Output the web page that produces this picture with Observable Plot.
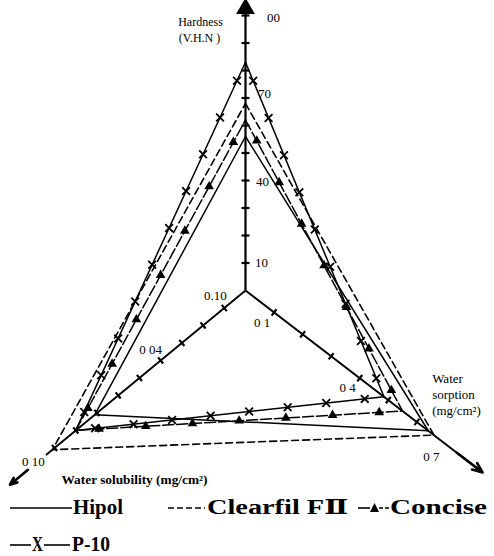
<!DOCTYPE html>
<html><head><meta charset="utf-8">
<script src="https://cdn.jsdelivr.net/npm/d3@7"></script>
<script src="https://cdn.jsdelivr.net/npm/@observablehq/plot@0.6"></script>
<style>
html,body{margin:0;padding:0;background:#fff;}
svg{display:block}
#legend text{font-family:'Liberation Serif','DejaVu Serif',serif;font-weight:bold;font-size:20px;fill:#000}
</style></head><body>
<div id="chart"></div>
<svg id="legend" width="494" height="61">
  <line x1="10" y1="13" x2="72" y2="13" stroke="#000" stroke-width="1.6"/>
  <text x="73" y="19" textLength="50" lengthAdjust="spacingAndGlyphs">Hipol</text>
  <line x1="168" y1="13" x2="205" y2="13" stroke="#000" stroke-width="1.6" stroke-dasharray="6,3"/>
  <text x="207" y="19" textLength="141" lengthAdjust="spacingAndGlyphs">Clearfil FⅡ</text>
  <line x1="358" y1="13" x2="370" y2="13" stroke="#000" stroke-width="1.6"/>
  <path d="M370,17 L374.5,8 L379,17 Z" fill="#000"/>
  <line x1="379" y1="13" x2="389" y2="13" stroke="#000" stroke-width="1.6" stroke-dasharray="4,2"/>
  <text x="390" y="19" textLength="97" lengthAdjust="spacingAndGlyphs">Concise</text>
  <line x1="10" y1="50" x2="31" y2="50" stroke="#000" stroke-width="1.6"/>
  <text x="32" y="56" font-size="16" textLength="11" lengthAdjust="spacingAndGlyphs">X</text>
  <line x1="44" y1="50" x2="70" y2="50" stroke="#000" stroke-width="1.6"/>
  <text x="72" y="56" textLength="38" lengthAdjust="spacingAndGlyphs">P-10</text>
</svg>
<script>
// ---- data ----
const materials = ["Hipol", "Clearfil FⅡ", "Concise", "P-10"];
const hardness = [56, 68, 62, 83];               // V.H.N
const solubility = [0.071, 0.091, 0.080, 0.080]; // mg/cm²
const sorption = [0.64, 0.66, 0.55, 0.485];      // mg/cm²

const hardnessTicks = [10, 20, 30, 40, 50, 60, 70, 80, 90, 100];
const hardnessLabelValues = [10, 40, 70, 100];
const hardnessLabelTexts = ["10", "40", "70", "00"];
const solubilityTicks = [0.01, 0.02, 0.03, 0.04, 0.05, 0.06, 0.07, 0.08, 0.09];
const solubilityLabelValues = [0.01, 0.04, 0.10];
const solubilityLabelTexts = ["0.10", "0 04", "0 10"];
const sorptionTicks = [0.1, 0.2, 0.3, 0.4, 0.5, 0.6];
const sorptionLabelValues = [0.1, 0.4, 0.7];
const sorptionLabelTexts = ["0 1", "0 4", "0 7"];

// ---- layout ----
const W = 494, H = 495, CX = 245, CY = 290, R = 275;
const deg = Math.PI / 180;
const AX = {
  hardness:   {angle: 90,    scale: d3.scaleLinear([0, 100], [0, 1])},
  solubility: {angle: 219.5, scale: d3.scaleLinear([0, 0.1], [0, 1])},
  sorption:   {angle: -37.5, scale: d3.scaleLinear([0, 0.7], [0, 252 / 275])}
};
function project(axis, v, perpPx = 0, dxPx = 0, dyPx = 0) {
  const a = AX[axis].angle * deg, r = AX[axis].scale(v), p = perpPx / R;
  const c = Math.abs(Math.cos(a)) < 1e-9 ? 0 : Math.cos(a);
  const s = Math.abs(Math.sin(a)) < 1e-9 ? 0 : Math.sin(a);
  return {x: r * c - p * s + dxPx / R,
          y: r * s + p * c - dyPx / R};
}
const px = (x, y) => ({x: (x - CX) / R, y: (CY - y) / R});

const styles = [
  {dash: null, width: 1.5},
  {dash: "7,4", width: 1.6},
  {dash: "11,3", width: 1.5},
  {dash: null, width: 1.5}
];

function polygon(i) {
  return [project("hardness", hardness[i]), project("sorption", sorption[i]),
          project("solubility", solubility[i]), project("hardness", hardness[i])];
}
function edgeMarkers(i, stepPx) {
  const v = polygon(i), out = [];
  for (let e = 0; e < 3; e++) {
    const p = v[e], q = v[e + 1];
    const len = Math.hypot(q.x - p.x, q.y - p.y) * R;
    const n = Math.max(1, Math.round(len / stepPx));
    for (let k = 0; k < n; k++) {
      const t = (k + 0.5) / n;
      out.push({x: p.x + (q.x - p.x) * t, y: p.y + (q.y - p.y) * t});
    }
  }
  return out;
}

function tickLinks(axis, values, half) {
  return values.map(v => {
    const a = project(axis, v, -half), b = project(axis, v, half);
    return {x1: a.x, y1: a.y, x2: b.x, y2: b.y};
  });
}
const seg = (a, b) => ({x1: a.x, y1: a.y, x2: b.x, y2: b.y});
const axisLines = [
  seg(project("solubility", 0), project("solubility", 0.094)),
  seg(project("sorption", 0), project("sorption", 0.79))
];
const hardTop = project("hardness", 101);
const hardAxis = [{x: 0, y1: project("hardness", 0).y, y2: hardTop.y}];
const hardHead = [project("hardness", 102.5)];
const arrows = [
  seg(project("solubility", 0.1025), project("solubility", 0.111)),
  seg(project("sorption", 0.74), project("sorption", 0.83))
];

const hardOff = [[16, 0], [17, 1], [19, -4], [28, 2]];
const solOff = [[-9, -12], [-10, -11], [0, -4]];
const sorOff = [[-12, 10], [-12, 10], [-14, 13]];
const labels = [
  ...hardnessLabelValues.map((v, k) => ({...project("hardness", v, 0, ...hardOff[k]), text: hardnessLabelTexts[k]})),
  ...solubilityLabelValues.map((v, k) => ({...project("solubility", v, 0, ...solOff[k]), text: solubilityLabelTexts[k]})),
  ...sorptionLabelValues.map((v, k) => ({...project("sorption", v, 0, ...sorOff[k]), text: sorptionLabelTexts[k]}))
];

const titles = [
  {...px(200, 22), text: "Hardness", size: 12},
  {...px(199, 38), text: "(V.H.N )", size: 12},
  {...px(447, 378), text: "Water", size: 13},
  {...px(453, 394), text: "sorption", size: 13},
  {...px(456, 410), text: "(mg/cm²)", size: 13}
];

const linkOpts = {x1: "x1", y1: "y1", x2: "x2", y2: "y2", stroke: "black"};
const marks = [
  Plot.ruleX(hardAxis, {x: "x", y1: "y1", y2: "y2", stroke: "black", strokeWidth: 2.2}),
  Plot.dot(hardHead, {x: "x", y: "y", symbol: "triangle", r: 6, fill: "black", stroke: "black"}),
  Plot.link(axisLines, {...linkOpts, strokeWidth: 1.9}),
  Plot.arrow(arrows, {...linkOpts, strokeWidth: 2.6, headLength: 12, headAngle: 45}),
  Plot.link(tickLinks("hardness", hardnessTicks, 4), {...linkOpts, strokeWidth: 2.2}),
  Plot.link(tickLinks("solubility", solubilityTicks, 4), {...linkOpts, strokeWidth: 2.2}),
  Plot.link(tickLinks("sorption", sorptionTicks, 4), {...linkOpts, strokeWidth: 2.2}),
  ...materials.map((m, i) => Plot.line(polygon(i), {
    x: "x", y: "y", stroke: "black", strokeWidth: styles[i].width,
    strokeDasharray: styles[i].dash ?? undefined
  })),
  Plot.dot(edgeMarkers(2, 48), {x: "x", y: "y", symbol: "triangle", r: 3.6, fill: "black", stroke: "none"}),
  Plot.dot(edgeMarkers(3, 40), {x: "x", y: "y", symbol: "times", r: 3.6, stroke: "black", strokeWidth: 1.8}),
  Plot.text(labels, {x: "x", y: "y", text: "text", fontSize: 13, fill: "black"}),
  Plot.text(titles.filter(t => t.size === 12), {x: "x", y: "y", text: "text", fontSize: 12, fill: "black"}),
  Plot.text(titles.filter(t => t.size === 13), {x: "x", y: "y", text: "text", fontSize: 13, fill: "black"}),
  Plot.text([{...px(134, 480), text: "Water solubility (mg/cm²)"}], {x: "x", y: "y", text: "text", fontSize: 12, fontWeight: "bold", fill: "black"})
];

const plot = Plot.plot({
  width: W, height: H, margin: 0,
  x: {domain: [-CX / R, (W - CX) / R], range: [0, W], axis: null},
  y: {domain: [-(H - CY) / R, CY / R], range: [H, 0], axis: null},
  style: {fontFamily: "'Liberation Serif','DejaVu Serif',serif", background: "#fff", color: "black"},
  marks
});
document.getElementById("chart").appendChild(plot);
d3.select(plot).selectAll("text")
  .filter(function () { return this.textContent.startsWith("Water solubility"); })
  .attr("textLength", 146).attr("lengthAdjust", "spacingAndGlyphs");
</script>
</body></html>
